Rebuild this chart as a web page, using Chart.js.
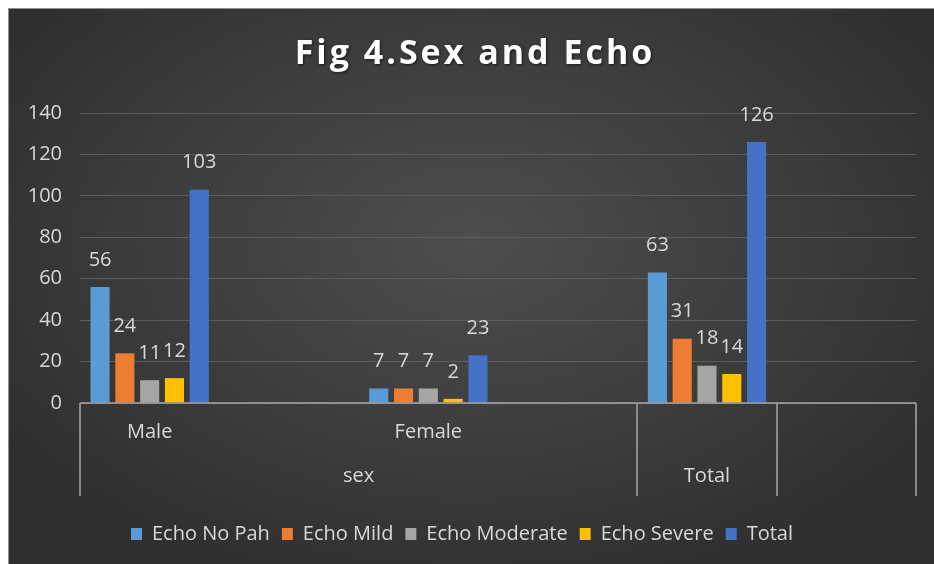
<!DOCTYPE html>
<html>
<head>
<meta charset="utf-8">
<script src="https://cdn.jsdelivr.net/npm/chart.js@4.4.1/dist/chart.umd.min.js"></script>
<style>
  html, body { margin: 0; padding: 0; background: #fff; }
  .Chart__box {
    position: absolute; left: 8px; top: 8px; width: 926px; height: 556px;
    background: radial-gradient(ellipse 60% 65% at 50% 42%, #4d4d4d 0%, #3d3d3d 55%, #2f2f2f 100%);
    box-shadow: inset 1px 1px 0 #8f8f8f;
  }
  canvas { display: block; }
</style>
</head>
<body>
<div class="Chart__box"><canvas id="chart" width="926" height="556"></canvas></div>
<script>
const title = "Fig 4.Sex and Echo";
const innerLabels = ["Male", "", "Female", "", "", ""];
// outer level of the category axis: [label, first category, last category]
const outerGroups = [["sex", 0, 3], ["Total", 4, 4], ["", 5, 5]];
const yTicks = [0, 20, 40, 60, 80, 100, 120, 140];

const seriesNames = ["Echo No Pah", "Echo Mild", "Echo Moderate", "Echo Severe", "Total"];
const echoNoPah    = [56, null, 7, null, 63, null];
const echoMild     = [24, null, 7, null, 31, null];
const echoModerate = [11, null, 7, null, 18, null];
const echoSevere   = [12, null, 2, null, 14, null];
const totals       = [103, null, 23, null, 126, null];
const seriesColors = ["#5B9BD5", "#ED7D31", "#A5A5A5", "#FFC000", "#4472C4"];

const txt = "#d9d9d9";
const font = "'Open Sans', 'DejaVu Sans', sans-serif";

// title, value labels and the two-level category axis
const drawExtras = {
    id: "drawExtras",
    afterDatasetsDraw(chart) {
        const ctx = chart.ctx;
        const x = chart.scales.x;
        const y = chart.scales.y;
        const area = chart.chartArea;
        ctx.save();

        // value labels
        ctx.fillStyle = txt;
        ctx.font = "20px " + font;
        ctx.textAlign = "center";
        ctx.textBaseline = "middle";
        chart.data.datasets.forEach((ds, i) => {
            chart.getDatasetMeta(i).data.forEach((bar, j) => {
                if (ds.data[j] == null) return;
                ctx.fillText(ds.data[j], bar.x, bar.y - 27);
            });
        });

        // axis line and group separators
        const zero = y.getPixelForValue(0);
        const cw = x.width / chart.data.labels.length;
        ctx.strokeStyle = "#a6a6a6";
        ctx.lineWidth = 1.5;
        ctx.beginPath();
        ctx.moveTo(area.left, zero);
        ctx.lineTo(area.right, zero);
        const seps = [0];
        outerGroups.forEach(g => seps.push(g[2] + 1));
        seps.forEach(i => {
            const px = Math.round(x.left + i * cw);
            ctx.moveTo(px, zero);
            ctx.lineTo(px, zero + 93);
        });
        ctx.stroke();

        // category labels
        innerLabels.forEach((l, i) => {
            if (l) ctx.fillText(l, x.getPixelForValue(i), zero + 29);
        });
        outerGroups.forEach(g => {
            if (g[0]) ctx.fillText(g[0], x.left + (g[1] + g[2] + 1) / 2 * cw, zero + 73);
        });

        // title
        ctx.font = "bold 34px " + font;
        ctx.letterSpacing = "3px";
        ctx.fillStyle = "#ffffff";
        ctx.textBaseline = "alphabetic";
        ctx.shadowColor = "rgba(0,0,0,0.6)";
        ctx.shadowBlur = 3;
        ctx.shadowOffsetX = 1;
        ctx.shadowOffsetY = 1;
        ctx.fillText(title, chart.width / 2 + 4, 56);
        ctx.restore();
    }
};

const seriesData = [echoNoPah, echoMild, echoModerate, echoSevere, totals];

new Chart(document.getElementById("chart"), {
    type: "bar",
    data: {
        labels: innerLabels,
        datasets: seriesNames.map((name, i) => ({
            label: name,
            data: seriesData[i],
            backgroundColor: seriesColors[i],
            borderWidth: 0,
            categoryPercentage: 0.89,
            barPercentage: 0.77
        }))
    },
    options: {
        responsive: false,
        animation: false,
        layout: { padding: { top: 105, right: 18, left: 0, bottom: 10 } },
        plugins: {
            title: { display: false },
            tooltip: { enabled: false },
            legend: {
                position: "bottom",
                labels: {
                    color: txt,
                    font: { family: font, size: 20 },
                    boxWidth: 11,
                    boxHeight: 12,
                    padding: 12
                }
            }
        },
        scales: {
            x: {
                ticks: { display: false },
                grid: { display: false },
                border: { display: false },
                afterFit(s) { s.height = 109; }
            },
            y: {
                min: 0,
                max: 140,
                afterBuildTicks(s) { s.ticks = yTicks.map(v => ({ value: v })); },
                ticks: { color: txt, font: { family: font, size: 20 }, padding: 18 },
                grid: { color: "#5c5c5c", drawTicks: false },
                border: { display: false },
                afterFit(s) { s.width = 72; }
            }
        }
    },
    plugins: [drawExtras]
});
</script>
</body>
</html>
